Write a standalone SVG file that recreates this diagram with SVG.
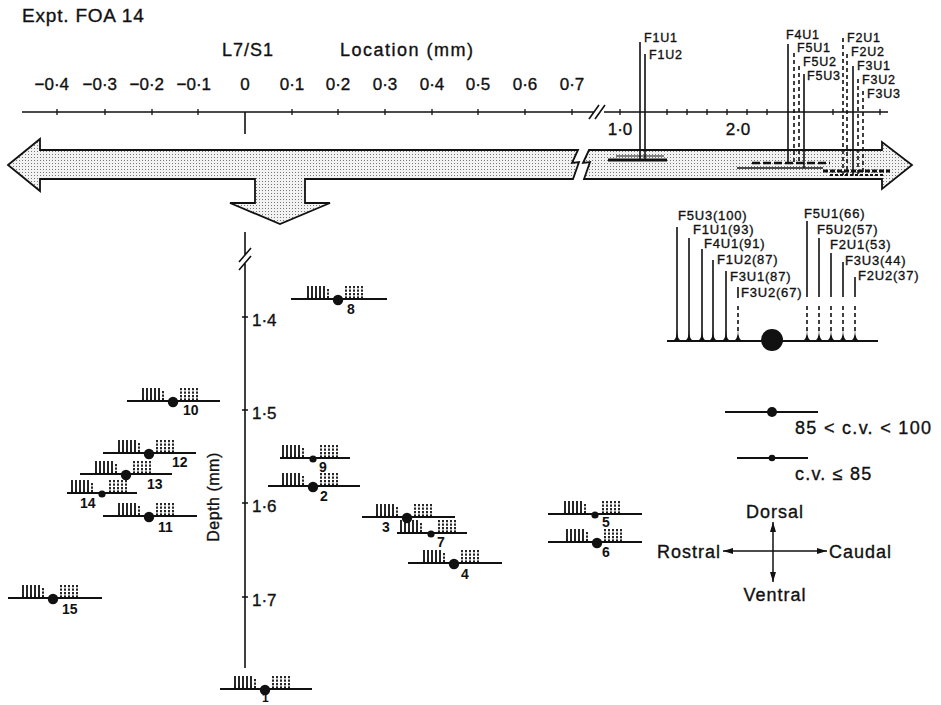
<svg xmlns="http://www.w3.org/2000/svg" width="941" height="705" viewBox="0 0 941 705">
<style>
text{font-family:"Liberation Sans",Arial,sans-serif;fill:#111;stroke:#111;stroke-width:0.35px}
.ax{stroke:#111;stroke-width:1.6;fill:none}
.tk{stroke:#111;stroke-width:1.3;fill:none}
.lb{font-size:18px;letter-spacing:1px}
.tl{font-size:17px}
.fu{font-size:13px;letter-spacing:0.8px}
.num{font-size:14px;font-weight:bold;stroke-width:0}
.bl{stroke:#111;stroke-width:1.8}
.sl{stroke:#111;stroke-width:1.6;fill:none}
.dl{stroke:#111;stroke-width:1.6;stroke-dasharray:4 3;fill:none}
.arw{fill:url(#stip);stroke:#111;stroke-width:1.8;stroke-linejoin:miter}
.cp{stroke:#111;stroke-width:1.5}
</style>
<defs>
<pattern id="stip" width="3" height="3" patternUnits="userSpaceOnUse"><rect width="3" height="3" fill="#f2f2f2"/><rect x="1" y="1" width="1" height="1" fill="#777"/></pattern>
<marker id="ah" viewBox="0 0 10 6" refX="10" refY="3" markerWidth="10" markerHeight="6" markerUnits="userSpaceOnUse" orient="auto"><path d="M0 0L10 3L0 6Z" fill="#111"/></marker>
<g id="mk">
<path d="M-30-13V0M-26-13V0M-22-13V0M-18-13V0M-14-13V0" stroke="#111" stroke-width="1.8"/>
<path d="M-10-10V0M8-13V0M12-13V0M16-13V0M20-13V0M24-13V0" stroke="#111" stroke-width="1.8" stroke-dasharray="2.2 1.3"/>
<path d="M-32 0Q-30-.5-30-5Q-30-.5-28 0ZM-28 0Q-26-.5-26-5Q-26-.5-24 0ZM-24 0Q-22-.5-22-5Q-22-.5-20 0ZM-20 0Q-18-.5-18-5Q-18-.5-16 0ZM-16 0Q-14-.5-14-5Q-14-.5-12 0ZM-12 0Q-10-.5-10-5Q-10-.5-8 0ZM6 0Q8-.5 8-5Q8-.5 10 0ZM10 0Q12-.5 12-5Q12-.5 14 0ZM14 0Q16-.5 16-5Q16-.5 18 0ZM18 0Q20-.5 20-5Q20-.5 22 0ZM22 0Q24-.5 24-5Q24-.5 26 0Z" fill="#111"/>
</g>
</defs>
<rect width="941" height="705" fill="#fff"/>

<g id="title"><text x="22" y="22" style="font-size:19px;letter-spacing:0.8px">Expt. FOA 14</text></g>

<g id="location-axis">
<text x="222" y="56" class="lb">L7/S1</text>
<text x="340" y="56" class="lb" style="letter-spacing:1.5px">Location (mm)</text>
<g class="tl">
<text x="69" y="90" text-anchor="end">−0·4</text>
<text x="117" y="90" text-anchor="end">−0·3</text>
<text x="164" y="90" text-anchor="end">−0·2</text>
<text x="211" y="90" text-anchor="end">−0·1</text>
<text x="245" y="90" text-anchor="middle">0</text>
<text x="292" y="90" text-anchor="middle">0·1</text>
<text x="338" y="90" text-anchor="middle">0·2</text>
<text x="385" y="90" text-anchor="middle">0·3</text>
<text x="432" y="90" text-anchor="middle">0·4</text>
<text x="478" y="90" text-anchor="middle">0·5</text>
<text x="525" y="90" text-anchor="middle">0·6</text>
<text x="572" y="90" text-anchor="middle">0·7</text>
<text x="620" y="135" text-anchor="middle">1·0</text>
<text x="738" y="135" text-anchor="middle">2·0</text>
</g>
<path class="ax" d="M22 112H594M604 112H888M589 119L599 105M595 119L605 105M245 112V134"/>
<path class="tk" d="M57 109V115M105 109V115M152 109V115M198 109V115M292 109V115M338 109V115M385 109V115M432 109V115M478 109V115M525 109V115M572 109V115M620 109V115M667 109V115M687 109V115M707 109V115M727 109V115M747 109V115M767 109V115M833 109V115M880 109V115"/>
</g>

<g id="band-arrow">
<path class="arw" d="M8 165L40 139V150H578L572 163L579 162L573 179H305V203H330L280 224L230 203H255V179H40V191Z"/>
<path class="arw" d="M589 150H882V142L912 165L882 189V179H584L590 162L583 163Z"/>
</g>

<g id="fibre-units-top">
<path class="sl" d="M640 42V160M645 54V160M788 44V164M804 74V168M853 66V175"/>
<path class="dl" d="M794 53V164M799 66V164M843 38V175M847 54V175M858 79V175M863 91V175"/>
<path d="M608 160H667" stroke="#111" stroke-width="3"/>
<path d="M616 156H664" stroke="#111" stroke-width="1.2"/>
<path d="M752 163H830" stroke="#111" stroke-width="2.5" stroke-dasharray="8 3"/>
<path d="M737 168H823" stroke="#111" stroke-width="1.3"/>
<path d="M823 171H890" stroke="#111" stroke-width="3" stroke-dasharray="5 2"/>
<path d="M830 175H885" stroke="#111" stroke-width="2" stroke-dasharray="3 2"/>
<g class="fu" style="font-size:12.5px">
<text x="644" y="42">F1U1</text>
<text x="649" y="59">F1U2</text>
<text x="786" y="39">F4U1</text>
<text x="797" y="52">F5U1</text>
<text x="803" y="66">F5U2</text>
<text x="807" y="80">F5U3</text>
<text x="847" y="42">F2U1</text>
<text x="851" y="56">F2U2</text>
<text x="857" y="70">F3U1</text>
<text x="862" y="84">F3U2</text>
<text x="867" y="98">F3U3</text>
</g>
</g>

<g id="depth-axis">
<path class="ax" d="M245 232V255M245 263V668M239 262L251 248M239 270L251 256"/>
<path class="tk" d="M242 317H248M242 410H248M242 503H248M242 597H248"/>
<g class="tl">
<text x="252" y="326">1·4</text>
<text x="252" y="419">1·5</text>
<text x="252" y="512">1·6</text>
<text x="252" y="606">1·7</text>
</g>
<text transform="translate(219,497) rotate(-90)" text-anchor="middle" style="font-size:16px;letter-spacing:0.5px">Depth (mm)</text>
</g>

<g id="legend-units">
<line class="bl" x1="667" y1="341" x2="878" y2="341"/>
<path class="sl" d="M677 227V341M689 238V341M702 249V341M713 260V341M726 271V341M738 287V298M807 221V297M819 238V297M831 253V297M843 262V297M855 277V297"/>
<path class="dl" d="M738 306V333M807 306V333M819 306V333M831 306V333M843 306V333M855 306V333"/>
<path fill="#111" d="M672 341Q677 340 677 329Q677 340 682 341ZM684 341Q689 340 689 329Q689 340 694 341ZM697 341Q702 340 702 329Q702 340 707 341ZM708 341Q713 340 713 329Q713 340 718 341ZM721 341Q726 340 726 329Q726 340 731 341ZM733 341Q738 340 738 329Q738 340 743 341ZM802 341Q807 340 807 329Q807 340 812 341ZM814 341Q819 340 819 329Q819 340 824 341ZM826 341Q831 340 831 329Q831 340 836 341ZM838 341Q843 340 843 329Q843 340 848 341ZM850 341Q855 340 855 329Q855 340 860 341Z"/>
<circle cx="772" cy="340" r="11" fill="#111"/>
<g class="fu">
<text x="678" y="220">F5U3(100)</text>
<text x="693" y="234">F1U1(93)</text>
<text x="704" y="248">F4U1(91)</text>
<text x="717" y="264">F1U2(87)</text>
<text x="730" y="281">F3U1(87)</text>
<text x="741" y="297">F3U2(67)</text>
<text x="804" y="218">F5U1(66)</text>
<text x="817" y="234">F5U2(57)</text>
<text x="830" y="249">F2U1(53)</text>
<text x="845" y="265">F3U3(44)</text>
<text x="858" y="280">F2U2(37)</text>
</g>
</g>

<g id="legend-cv">
<line class="bl" x1="725" y1="412" x2="818" y2="412"/>
<circle cx="772" cy="412" r="5" fill="#111"/>
<text x="795" y="434" class="lb" style="letter-spacing:1.3px">85 &lt; c.v. &lt; 100</text>
<line class="bl" x1="737" y1="458" x2="808" y2="458"/>
<circle cx="772" cy="458" r="3.3" fill="#111"/>
<text x="795" y="480" class="lb" style="letter-spacing:1.2px">c.v. ≤ 85</text>
</g>

<g id="compass">
<line class="cp" x1="773" y1="551" x2="723" y2="551" marker-end="url(#ah)"/>
<line class="cp" x1="773" y1="551" x2="827" y2="551" marker-end="url(#ah)"/>
<line class="cp" x1="773" y1="551" x2="773" y2="522" marker-end="url(#ah)"/>
<line class="cp" x1="773" y1="551" x2="773" y2="582" marker-end="url(#ah)"/>
<text x="721" y="558" text-anchor="end" class="lb">Rostral</text>
<text x="829" y="558" class="lb">Caudal</text>
<text x="775" y="518" text-anchor="middle" class="lb">Dorsal</text>
<text x="775" y="601" text-anchor="middle" class="lb">Ventral</text>
</g>

<g id="unit-1"><line class="bl" x1="220" y1="689" x2="312" y2="689"/><use href="#mk" x="265" y="689"/><circle cx="265" cy="690" r="5.2" fill="#111"/><text x="262" y="702" class="num" style="font-size:12px">1</text></g>
<g id="unit-2"><line class="bl" x1="268" y1="486" x2="360" y2="486"/><use href="#mk" x="313" y="486"/><circle cx="313" cy="487" r="5.2" fill="#111"/><text x="320" y="501" class="num">2</text></g>
<g id="unit-3"><line class="bl" x1="362" y1="517" x2="455" y2="517"/><use href="#mk" x="407" y="517"/><circle cx="407" cy="518" r="5.2" fill="#111"/><text x="382" y="532" class="num">3</text></g>
<g id="unit-4"><line class="bl" x1="408" y1="563" x2="502" y2="563"/><use href="#mk" x="454" y="563"/><circle cx="454" cy="564" r="5.2" fill="#111"/><text x="461" y="579" class="num">4</text></g>
<g id="unit-5"><line class="bl" x1="548" y1="514" x2="642" y2="514"/><use href="#mk" x="595" y="514"/><circle cx="595" cy="515" r="3.6" fill="#111"/><text x="602" y="527" class="num">5</text></g>
<g id="unit-6"><line class="bl" x1="548" y1="542" x2="642" y2="542"/><use href="#mk" x="597" y="542"/><circle cx="597" cy="543" r="5.2" fill="#111"/><text x="602" y="557" class="num">6</text></g>
<g id="unit-7"><line class="bl" x1="397" y1="533" x2="467" y2="533"/><use href="#mk" x="431" y="533"/><circle cx="431" cy="534" r="3.6" fill="#111"/><text x="437" y="547" class="num">7</text></g>
<g id="unit-8"><line class="bl" x1="291" y1="299" x2="387" y2="299"/><use href="#mk" x="338" y="299"/><circle cx="338" cy="300" r="5.2" fill="#111"/><text x="347" y="314" class="num">8</text></g>
<g id="unit-9"><line class="bl" x1="280" y1="458" x2="350" y2="458"/><use href="#mk" x="313" y="458"/><circle cx="313" cy="459" r="3.6" fill="#111"/><text x="319" y="472" class="num">9</text></g>
<g id="unit-10"><line class="bl" x1="127" y1="401" x2="220" y2="401"/><use href="#mk" x="173" y="401"/><circle cx="173" cy="402" r="5.2" fill="#111"/><text x="183" y="415" class="num">10</text></g>
<g id="unit-11"><line class="bl" x1="103" y1="516" x2="197" y2="516"/><use href="#mk" x="149" y="516"/><circle cx="149" cy="517" r="5.2" fill="#111"/><text x="158" y="532" class="num">11</text></g>
<g id="unit-12"><line class="bl" x1="103" y1="453" x2="196" y2="453"/><use href="#mk" x="149" y="453"/><circle cx="149" cy="454" r="5.2" fill="#111"/><text x="172" y="467" class="num">12</text></g>
<g id="unit-13"><line class="bl" x1="80" y1="474" x2="172" y2="474"/><use href="#mk" x="126" y="474"/><circle cx="126" cy="475" r="5.2" fill="#111"/><text x="147" y="489" class="num">13</text></g>
<g id="unit-14"><line class="bl" x1="67" y1="493" x2="137" y2="493"/><use href="#mk" x="102" y="493"/><circle cx="102" cy="494" r="3.6" fill="#111"/><text x="80" y="508" class="num">14</text></g>
<g id="unit-15"><line class="bl" x1="8" y1="598" x2="102" y2="598"/><use href="#mk" x="53" y="598"/><circle cx="53" cy="599" r="5.2" fill="#111"/><text x="62" y="614" class="num">15</text></g>
</svg>
